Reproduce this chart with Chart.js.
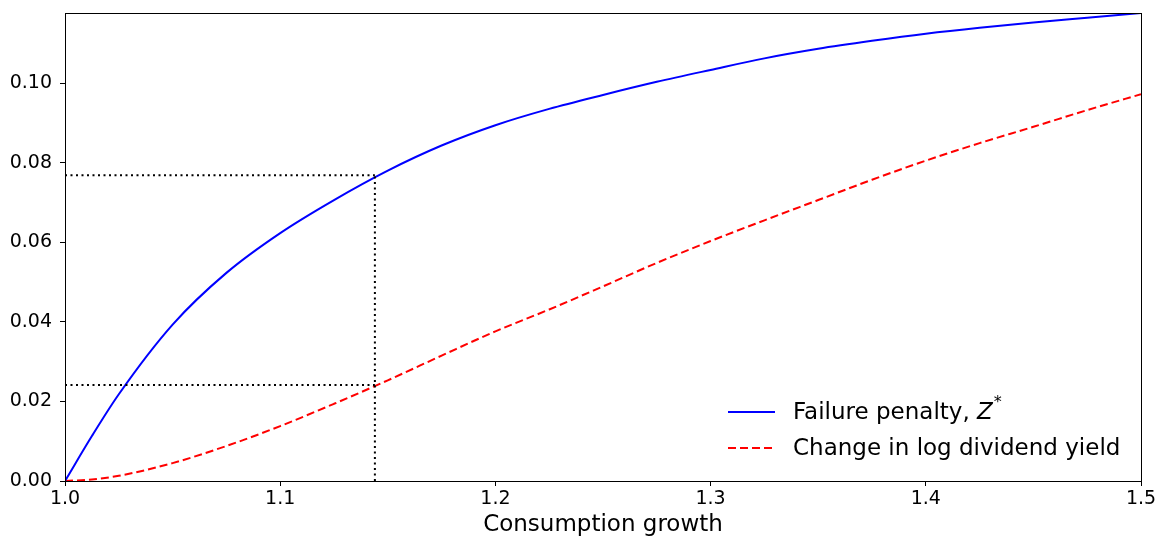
<!DOCTYPE html>
<html>
<head>
<meta charset="utf-8">
<script src="https://cdn.jsdelivr.net/npm/chart.js@4.4.0/dist/chart.umd.min.js"></script>
<style>
  html, body { margin: 0; padding: 0; background: #fff; }
</style>
</head>
<body>
<canvas id="chart" width="1159" height="539"></canvas>
<script>
// consumption growth grid and the two curves
const growth = [1.000, 1.0125, 1.025, 1.050, 1.075, 1.100, 1.125, 1.150, 1.175, 1.200, 1.225, 1.250,
                1.275, 1.300, 1.325, 1.350, 1.375, 1.400, 1.425, 1.450, 1.475, 1.500];
const penalty = [0.0000, 0.0113, 0.0218, 0.0393, 0.0523, 0.0623, 0.0706, 0.0780, 0.0843, 0.0894, 0.0935, 0.0970,
                 0.1003, 0.1033, 0.1062, 0.1086, 0.1106, 0.1124, 0.1139, 0.1152, 0.1164, 0.1176];
const yieldChange = [0.0000, 0.0004, 0.0013, 0.0045, 0.0088, 0.0138, 0.0194, 0.0253, 0.0315, 0.0376, 0.0431, 0.0489,
                     0.0548, 0.0603, 0.0655, 0.0706, 0.0757, 0.0805, 0.0849, 0.0890, 0.0932, 0.0972];

// dotted reference lines
const markGrowth = 1.144;
const markPenalty = 0.0768;
const markYield = 0.0241;

const xTicks = [1.0, 1.1, 1.2, 1.3, 1.4, 1.5];
const yTicks = [0.00, 0.02, 0.04, 0.06, 0.08, 0.10];
const yMax = 0.1176;

Chart.defaults.font.family = "'DejaVu Sans', sans-serif";
Chart.defaults.color = "#000";

function toPoints(xs, ys) {
    return xs.map((x, i) => ({ x: x, y: ys[i] }));
}

// frame around the plot area
const framePlugin = {
    id: "frame",
    afterDatasetsDraw(chart) {
        const a = chart.chartArea;
        const ctx = chart.ctx;
        ctx.save();
        ctx.strokeStyle = "#000";
        ctx.lineWidth = 1;
        ctx.strokeRect(Math.round(a.left) + 0.5, Math.round(a.top) + 0.5,
                       Math.round(a.right - a.left), Math.round(a.bottom - a.top));
        ctx.restore();
    }
};

// legend in lower right corner, with the italic Z and superscript star
const legendPlugin = {
    id: "cornerLegend",
    afterDraw(chart) {
        const a = chart.chartArea;
        const ctx = chart.ctx;
        const x0 = a.right - 413, x1 = a.right - 366, tx = a.right - 348;
        const rows = [a.bottom - 69, a.bottom - 33];
        ctx.save();
        ctx.lineWidth = 2;
        ctx.strokeStyle = "#0000ff";
        ctx.beginPath(); ctx.moveTo(x0, rows[0]); ctx.lineTo(x1, rows[0]); ctx.stroke();
        ctx.strokeStyle = "#ff0000";
        ctx.setLineDash([8, 4]);
        ctx.beginPath(); ctx.moveTo(x0, rows[1]); ctx.lineTo(x1, rows[1]); ctx.stroke();
        ctx.setLineDash([]);

        ctx.fillStyle = "#000";
        ctx.textBaseline = "middle";
        ctx.font = "23px 'DejaVu Sans'";
        const t1 = "Failure penalty, ";
        ctx.fillText(t1, tx, rows[0] + 1);
        let w = ctx.measureText(t1).width;
        ctx.font = "italic 23px 'DejaVu Sans'";
        ctx.fillText("Z", tx + w, rows[0] + 1);
        w += ctx.measureText("Z").width;
        ctx.font = "16px 'DejaVu Sans'";
        ctx.fillText("*", tx + w + 1, rows[0] - 9);
        ctx.font = "23px 'DejaVu Sans'";
        ctx.fillText("Change in log dividend yield", tx, rows[1] + 1);
        ctx.restore();
    }
};

const dotted = { borderColor: "#000", borderWidth: 2, borderDash: [2, 3.5], pointRadius: 0, fill: false, tension: 0 };

new Chart(document.getElementById("chart"), {
    type: "line",
    data: {
        datasets: [
            Object.assign({ data: [{ x: xTicks[0], y: markPenalty }, { x: markGrowth, y: markPenalty }] }, dotted),
            Object.assign({ data: [{ x: xTicks[0], y: markYield }, { x: markGrowth, y: markYield }] }, dotted),
            Object.assign({ data: [{ x: markGrowth, y: 0 }, { x: markGrowth, y: markPenalty }] }, dotted),
            {
                label: "Failure penalty, Z*",
                data: toPoints(growth, penalty),
                borderColor: "#0000ff",
                borderWidth: 2,
                pointRadius: 0,
                cubicInterpolationMode: "monotone"
            },
            {
                label: "Change in log dividend yield",
                data: toPoints(growth, yieldChange),
                borderColor: "#ff0000",
                borderWidth: 2,
                borderDash: [8, 4],
                pointRadius: 0,
                cubicInterpolationMode: "monotone"
            }
        ]
    },
    options: {
        responsive: false,
        animation: false,
        devicePixelRatio: 1,
        layout: { padding: { top: 13, right: 18, left: 0, bottom: 0 } },
        plugins: {
            legend: { display: false },
            tooltip: { enabled: false }
        },
        scales: {
            x: {
                type: "linear",
                min: 1.0,
                max: 1.5,
                afterBuildTicks: (s) => { s.ticks = xTicks.map(v => ({ value: v })); },
                afterFit: (s) => { s.height = 58; s.paddingLeft = 0; s.paddingRight = 0; },
                ticks: {
                    font: { size: 19 },
                    padding: 2,
                    maxRotation: 0,
                    callback: (v) => v.toFixed(1)
                },
                grid: { display: true, drawOnChartArea: false, drawTicks: true, tickLength: 5, color: "#000" },
                border: { display: true, color: "#000", width: 1 },
                title: { display: true, text: "Consumption growth", font: { size: 23 }, padding: { top: 0, bottom: 0 } }
            },
            y: {
                type: "linear",
                min: 0,
                max: yMax,
                afterBuildTicks: (s) => { s.ticks = yTicks.map(v => ({ value: v })); },
                afterFit: (s) => { s.width = 65; s.paddingTop = 0; s.paddingBottom = 0; },
                ticks: {
                    font: { size: 19 },
                    padding: 8,
                    callback: (v) => v.toFixed(2)
                },
                grid: { display: true, drawOnChartArea: false, drawTicks: true, tickLength: 5, color: "#000" },
                border: { display: true, color: "#000", width: 1 }
            }
        }
    },
    plugins: [framePlugin, legendPlugin]
});
</script>
</body>
</html>
